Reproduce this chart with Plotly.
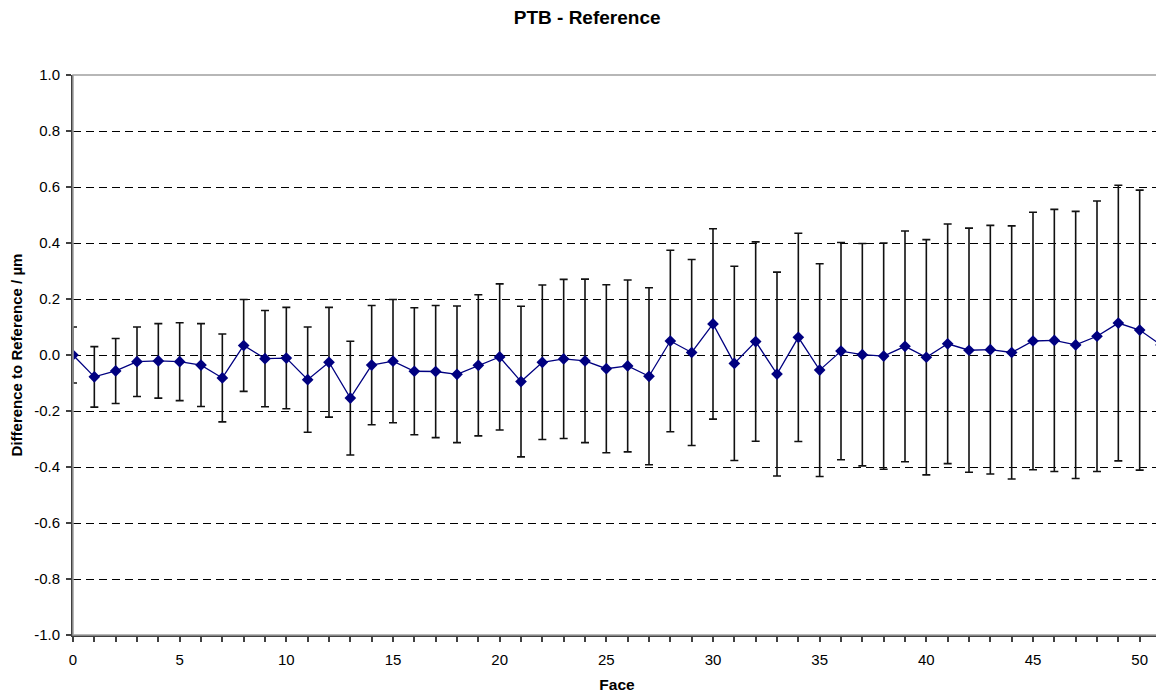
import plotly.graph_objects as go

faces = list(range(52))
diff = [0.000, -0.078, -0.057, -0.024, -0.021, -0.024, -0.036, -0.082, 0.034, -0.013,
        -0.011, -0.088, -0.026, -0.154, -0.036, -0.022, -0.058, -0.059, -0.069, -0.037,
        -0.007, -0.095, -0.026, -0.014, -0.021, -0.049, -0.039, -0.076, 0.050, 0.009,
        0.111, -0.030, 0.048, -0.068, 0.063, -0.054, 0.014, 0.001, -0.004, 0.031,
        -0.008, 0.040, 0.017, 0.019, 0.009, 0.050, 0.052, 0.036, 0.067, 0.114,
        0.089, 0.036]
uncert = [0.100, 0.108, 0.116, 0.124, 0.133, 0.139, 0.148, 0.157, 0.164, 0.172,
          0.181, 0.188, 0.196, 0.203, 0.213, 0.220, 0.227, 0.236, 0.244, 0.252,
          0.261, 0.269, 0.276, 0.284, 0.292, 0.300, 0.307, 0.316, 0.324, 0.332,
          0.340, 0.347, 0.356, 0.364, 0.372, 0.380, 0.388, 0.397, 0.404, 0.412,
          0.420, 0.428, 0.436, 0.444, 0.452, 0.460, 0.468, 0.477, 0.483, 0.492,
          0.500, 0.509]

y_tickvals = [-1.0, -0.8, -0.6, -0.4, -0.2, 0.0, 0.2, 0.4, 0.6, 0.8, 1.0]
y_ticktext = ["-1.0", "-0.8", "-0.6", "-0.4", "-0.2", "0.0", "0.2", "0.4", "0.6", "0.8", "1.0"]
x_tickvals = [0, 5, 10, 15, 20, 25, 30, 35, 40, 45, 50]

FONT = "Liberation Sans, Arial, sans-serif"
W, H = 1156, 692  # page body adds an 8px offset

fig = go.Figure()
fig.add_trace(go.Scatter(
    x=faces, y=diff, mode="lines+markers",
    line=dict(color="#000080", width=1.3),
    marker=dict(symbol="diamond", size=9, color="#000080"),
    error_y=dict(type="data", array=uncert, visible=True,
                 color="#111111", thickness=1.6, width=4),
    showlegend=False,
))

fig.update_layout(
    width=W, height=H,
    margin=dict(l=65, r=3, t=67, b=65),
    paper_bgcolor="white", plot_bgcolor="white",
    font=dict(family=FONT, color="#000000", size=15),
    title=dict(text="<b>PTB - Reference</b>", x=0.501, xref="container",
               y=1 - 9 / H, yref="container", yanchor="middle", xanchor="center",
               font=dict(family=FONT, size=19, color="#000000")),
    xaxis=dict(
        range=[0, 51], tickvals=x_tickvals, ticks="outside", ticklen=5,
        tickcolor="#404040", tickwidth=1.5, ticklabelstandoff=5,
        minor=dict(dtick=1, ticks="outside", ticklen=5, tickcolor="#404040", tickwidth=1.5, showgrid=False),
        showgrid=False, zeroline=False, showline=True, linecolor="#404040", linewidth=2,
        tickfont=dict(size=15, family=FONT, color="#000000"),
        title=dict(text="<b>Face</b>", font=dict(size=15.5, family=FONT), standoff=12),
    ),
    yaxis=dict(
        range=[-1.0, 1.0], tickvals=y_tickvals, ticktext=y_ticktext,
        ticks="outside", ticklen=5, tickcolor="#404040", tickwidth=1.5, ticklabelstandoff=3,
        showgrid=True, gridcolor="#000000", gridwidth=1, griddash="8px,5px",
        zeroline=False, showline=True, linecolor="#404040", linewidth=2,
        tickfont=dict(size=15, family=FONT, color="#000000"),
        title=dict(text="<b>Difference to Reference / µm</b>", font=dict(size=15, family=FONT), standoff=11),
    ),
    shapes=[dict(type="rect", xref="x domain", yref="y domain", x0=0, x1=1, y0=0, y1=1,
                 line=dict(color="#A0A0A0", width=1.5), layer="above")],
)

fig.write_html("out.html")
